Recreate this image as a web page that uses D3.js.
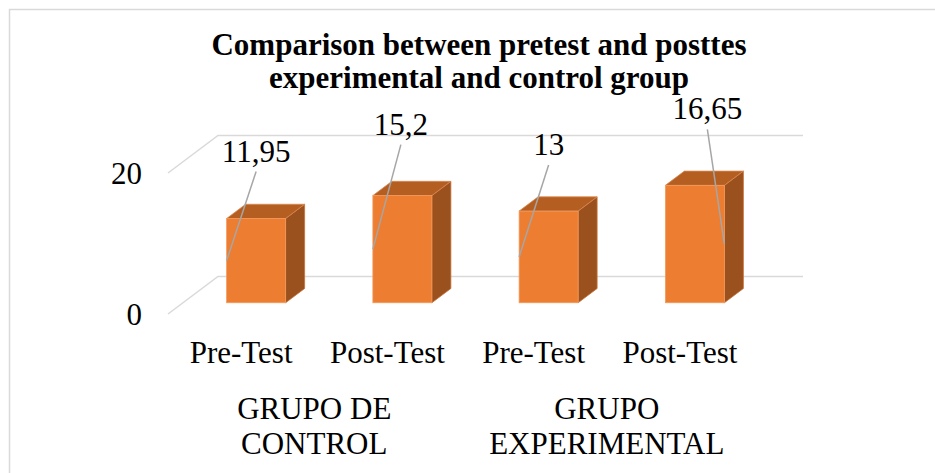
<!doctype html>
<html lang='en'>

<head>
    <meta charset='UTF-8'>
    <title>Comparison between pretest and posttes</title>
    <script src='https://cdn.jsdelivr.net/npm/d3@7/dist/d3.min.js'></script>
    <style>
        body { margin: 0; background: #fff; }
    </style>
    <script>
        // chart data
        const categories = ['Pre-Test', 'Post-Test', 'Pre-Test', 'Post-Test'];
        const groups = [['GRUPO DE', 'CONTROL'], ['GRUPO', 'EXPERIMENTAL']];
        const groupOf = [0, 0, 1, 1];
        const values = [11.95, 15.2, 13, 16.65];
        const valueLabels = ['11,95', '15,2', '13', '16,65'];
        const yTicks = [0, 20];
        const titleLines = ['Comparison between pretest and posttes', 'experimental and control group'];

        const SVG_SIZE = { width: 935, height: 473 };
        const FONT = "'Liberation Serif'";
        // front edge of the floor, and the vector going to the back wall
        const PLOT = { left: 168, right: 753, bottom: 314, top: 173 };
        const DEPTH = { dx: 50, dy: -37.5 };
        const BAR_FRONT = 0.3, BAR_DEPTH = 0.38;
        // manual data label nudges (Excel style), relative to bar front top centre
        const labelOffset = [[0, -57], [-1.5, -61], [0, -56], [12.5, -66]];
        const COLORS = { front: '#ED7D31', top: '#B55E22', side: '#9A511D', grid: '#D9D9D9', leader: '#A6A6A6' };

        function draw_chart() {
            let svg = d3.select('#chart').append('svg')
                .attr('width', SVG_SIZE.width).attr('height', SVG_SIZE.height);

            // chart border
            svg.append('rect')
                .attr('x', 9.5).attr('y', 9.5)
                .attr('width', SVG_SIZE.width).attr('height', SVG_SIZE.height)
                .attr('fill', '#fff').attr('stroke', COLORS.grid).attr('stroke-width', 1.5);

            let xScale = d3.scaleBand()
                .domain(d3.range(categories.length))
                .range([PLOT.left, PLOT.right])
                .paddingInner(0.5966).paddingOuter(0.2983);
            let yScale = d3.scaleLinear()
                .domain([0, d3.max(yTicks)])
                .range([PLOT.bottom, PLOT.top]);

            // gridlines on left wall + back wall
            let grid = svg.append('g');
            yTicks.forEach(function (v) {
                let y = yScale(v);
                grid.append('path')
                    .attr('d', 'M' + PLOT.left + ',' + y +
                        'L' + (PLOT.left + DEPTH.dx) + ',' + (y + DEPTH.dy) +
                        'L' + (PLOT.right + DEPTH.dx) + ',' + (y + DEPTH.dy))
                    .attr('fill', 'none')
                    .attr('stroke', COLORS.grid)
                    .attr('stroke-width', 1.5);
            });

            // y tick labels
            svg.append('g').selectAll('text')
                .data(yTicks).join('text')
                .attr('x', 142)
                .attr('y', function (d) { return yScale(d); })
                .attr('dy', '0.36em')
                .attr('text-anchor', 'end')
                .attr('font-family', FONT)
                .attr('font-size', 31)
                .text(function (d) { return d; });

            // bars
            let fx = BAR_FRONT * DEPTH.dx, fy = BAR_FRONT * DEPTH.dy;
            let bx = BAR_DEPTH * DEPTH.dx, by = BAR_DEPTH * DEPTH.dy;
            let bars = svg.append('g');
            values.forEach(function (v, i) {
                let x0 = xScale(i) + fx, x1 = x0 + xScale.bandwidth();
                let y0 = yScale(0) + fy, y1 = yScale(v) + fy;
                let g = bars.append('g');
                // side
                g.append('path')
                    .attr('d', 'M' + x1 + ',' + y0 + 'L' + (x1 + bx) + ',' + (y0 + by) +
                        'L' + (x1 + bx) + ',' + (y1 + by) + 'L' + x1 + ',' + y1 + 'Z')
                    .attr('fill', COLORS.side).attr('stroke', '#C8703A').attr('stroke-width', 0.8);
                // top
                g.append('path')
                    .attr('d', 'M' + x0 + ',' + y1 + 'L' + (x0 + bx) + ',' + (y1 + by) +
                        'L' + (x1 + bx) + ',' + (y1 + by) + 'L' + x1 + ',' + y1 + 'Z')
                    .attr('fill', COLORS.top).attr('stroke', '#D9884F').attr('stroke-width', 0.8);
                // front
                g.append('rect')
                    .attr('x', x0).attr('y', y1)
                    .attr('width', x1 - x0).attr('height', y0 - y1)
                    .attr('fill', COLORS.front).attr('stroke', '#F29A5E').attr('stroke-width', 0.8);
            });

            // data labels with leader lines
            let labels = svg.append('g');
            values.forEach(function (v, i) {
                let x0 = xScale(i) + fx, x1 = x0 + xScale.bandwidth();
                let cx = (x0 + x1) / 2;
                let yTop = yScale(v) + fy, yMid = (yScale(v) + yScale(0)) / 2 + fy;
                let lx = cx + labelOffset[i][0], ly = yTop + labelOffset[i][1];
                let ex = labelOffset[i][0] > 0 ? x1 : x0;
                labels.append('line')
                    .attr('x1', lx).attr('y1', ly + 10)
                    .attr('x2', ex).attr('y2', yMid)
                    .attr('stroke', COLORS.leader).attr('stroke-width', 1.5);
                labels.append('text')
                    .attr('x', lx).attr('y', ly)
                    .attr('text-anchor', 'middle')
                    .attr('font-family', FONT)
                    .attr('font-size', 31)
                    .text(valueLabels[i]);
            });

            // category labels
            svg.append('g').selectAll('text')
                .data(categories).join('text')
                .attr('x', function (d, i) { return xScale(i) + xScale.bandwidth() / 2; })
                .attr('y', 363)
                .attr('text-anchor', 'middle')
                .attr('font-family', FONT)
                .attr('font-size', 31)
                .text(function (d) { return d; });

            // group labels
            groups.forEach(function (lines, gi) {
                let idx = d3.range(categories.length).filter(function (i) { return groupOf[i] == gi; });
                let cx = d3.mean(idx, function (i) { return xScale(i) + xScale.bandwidth() / 2; });
                let t = svg.append('text')
                    .attr('text-anchor', 'middle')
                    .attr('font-family', FONT)
                    .attr('font-size', 31);
                lines.forEach(function (s, k) {
                    t.append('tspan').attr('x', cx).attr('y', 419 + k * 35).text(s);
                });
            });

            // title
            let title = svg.append('text')
                .attr('text-anchor', 'middle')
                .attr('font-family', FONT)
                .attr('font-size', 31)
                .attr('font-weight', 'bold');
            titleLines.forEach(function (s, k) {
                title.append('tspan').attr('x', 479).attr('y', 55 + k * 33).text(s);
            });
        }

        window.onload = function () {
            draw_chart();
        }
    </script>
</head>

<body>
    <div id='chart'></div>
</body>

</html>
